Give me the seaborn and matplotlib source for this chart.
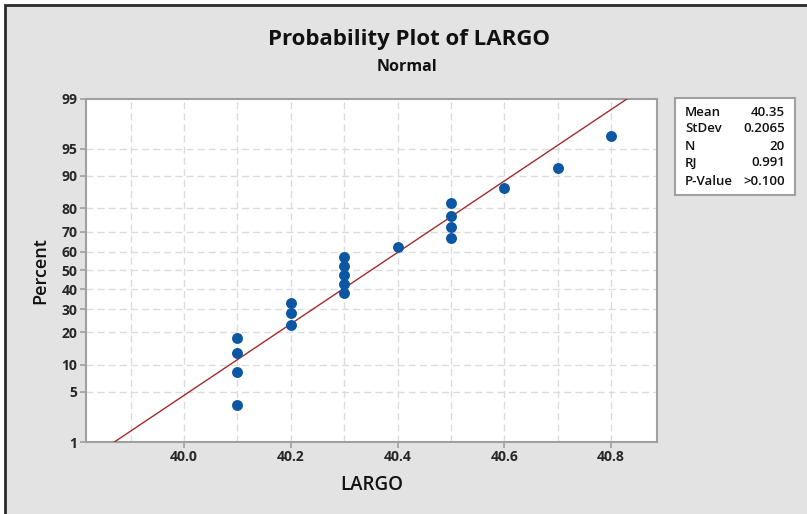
import numpy as np
import pandas as pd
import seaborn as sns
import matplotlib
matplotlib.use("Agg")
import matplotlib.pyplot as plt
from matplotlib.patches import Rectangle
from statistics import NormalDist

# Sample values (LARGO) and their median-rank plotting positions (%)
largo = [40.1, 40.1, 40.1, 40.1, 40.2, 40.2, 40.2, 40.3, 40.3, 40.3,
         40.3, 40.3, 40.4, 40.5, 40.5, 40.5, 40.5, 40.6, 40.7, 40.8]
percent = [3.431, 8.333, 13.235, 18.137, 23.039, 27.941, 32.843, 37.745,
           42.647, 47.549, 52.451, 57.353, 62.255, 67.157, 72.059, 76.961,
           81.863, 86.765, 91.667, 96.569]

# Fitted normal parameters and summary statistics
mean = 40.35
stdev = 0.2065
stat_names = ["Mean", "StDev", "N", "RJ", "P-Value"]
stat_values = ["40.35", "0.2065", "20", "0.991", ">0.100"]

y_ticks = [1, 5, 10, 20, 30, 40, 50, 60, 70, 80, 90, 95, 99]
x_ticks = [40.0, 40.2, 40.4, 40.6, 40.8]
x_grid = [39.9, 40.0, 40.1, 40.2, 40.3, 40.4, 40.5, 40.6, 40.7, 40.8]

sns.set_theme(style="white")
plt.rcParams["font.family"] = ["Open Sans", "DejaVu Sans"]

nd = NormalDist()


def _ppf_scalar(p):
    if not np.isfinite(p):
        return np.nan
    p = min(max(p, 1e-9), 100 - 1e-9)
    return nd.inv_cdf(p / 100.0)


def _cdf_scalar(z):
    if not np.isfinite(z):
        return np.nan
    return nd.cdf(z) * 100.0


_ppf = np.vectorize(_ppf_scalar, otypes=[float])
_cdf = np.vectorize(_cdf_scalar, otypes=[float])


def fwd(p):
    return _ppf(np.asarray(p, dtype=float))


def inv(z):
    return _cdf(np.asarray(z, dtype=float))


W, H = 807, 514
fig = plt.figure(figsize=(W / 100, H / 100), dpi=100, facecolor="white")

# gray panel with dark frame on top/left
fig.patches.append(Rectangle((5 / W, -0.05), 1.2, (H - 5) / H + 0.05,
                             transform=fig.transFigure, facecolor="#e3e3e3",
                             edgecolor="#2b2b2b", linewidth=2.0, zorder=-5))

ax = fig.add_axes([85.7 / W, (H - 442) / H, (657 - 85.7) / W, (442 - 98.7) / H])
ax.set_zorder(2)
ax.set_facecolor("white")

df = pd.DataFrame({"LARGO": largo, "Percent": percent})

# fitted line across the probability range
fit_p = [1, 5, 10, 20, 30, 40, 50, 60, 70, 80, 90, 95, 99]
fit = pd.DataFrame({"Percent": fit_p})
fit["LARGO"] = [mean + stdev * nd.inv_cdf(p / 100) for p in fit_p]

ax.set_yscale("function", functions=(fwd, inv))
ax.set_xlim(39.816, 40.886)
ax.set_ylim(1, 99)

sns.lineplot(data=fit, x="LARGO", y="Percent", ax=ax, color="#a52a2d",
             linewidth=1.0, sort=False, zorder=3, estimator=None)
sns.scatterplot(data=df, x="LARGO", y="Percent", ax=ax, color="#0b57a4",
                s=62, marker="o", edgecolor="#0b57a4", linewidth=0, zorder=4)

ax.set_xlim(39.816, 40.886)
ax.set_ylim(1, 99)

# grid
for xv in x_grid:
    ax.axvline(xv, color="#dcdcdc", linewidth=1.0, linestyle=(0, (5, 3)), zorder=1)
for yv in y_ticks[1:-1]:
    ax.axhline(yv, color="#dcdcdc", linewidth=1.0, linestyle=(0, (5, 3)), zorder=1)

ax.set_yticks(y_ticks)
ax.set_yticklabels([str(t) for t in y_ticks])
ax.yaxis.set_minor_locator(matplotlib.ticker.NullLocator())
ax.set_xticks(x_ticks)
ax.set_xticklabels([f"{t:.1f}" for t in x_ticks])

ax.tick_params(axis="both", which="major", direction="out", length=4, width=1.2,
               color="#a0a0a0", labelsize=10, labelcolor="#262626", pad=2,
               left=True, bottom=True)
for lab in ax.get_xticklabels() + ax.get_yticklabels():
    lab.set_fontweight("bold")

for side, sp in ax.spines.items():
    sp.set_color("#a0a0a0")
    sp.set_linewidth(1.5)

ax.set_xlabel("LARGO", fontsize=13.5, fontweight="semibold", color="#111111", labelpad=8)
ax.set_ylabel("Percent", fontsize=13, fontweight="semibold", color="#111111", labelpad=9)

fig.text(409 / W, 1 - 40 / H, "Probability Plot of LARGO", ha="center", va="center",
         fontsize=16, fontweight="bold", color="#111111")
fig.text(407 / W, 1 - 67 / H, "Normal", ha="center", va="center",
         fontsize=11.5, fontweight="bold", color="#111111")

# summary statistics box
bx0, bx1, by0, by1 = 675, 795, 98, 195
fig.patches.append(Rectangle((bx0 / W, 1 - by1 / H), (bx1 - bx0) / W, (by1 - by0) / H,
                             transform=fig.transFigure, facecolor="white",
                             edgecolor="#a0a0a0", linewidth=1.5, zorder=1))
row_y = [112, 129, 146, 163, 181]
for name, val, yy in zip(stat_names, stat_values, row_y):
    fig.text(685 / W, 1 - yy / H, name, ha="left", va="center", fontsize=9.5,
             fontweight="semibold", color="#111111", zorder=3)
    fig.text(785 / W, 1 - yy / H, val, ha="right", va="center", fontsize=9.5,
             fontweight="semibold", color="#111111", zorder=3)

fig.savefig("out.png", dpi=100, facecolor=fig.get_facecolor())
